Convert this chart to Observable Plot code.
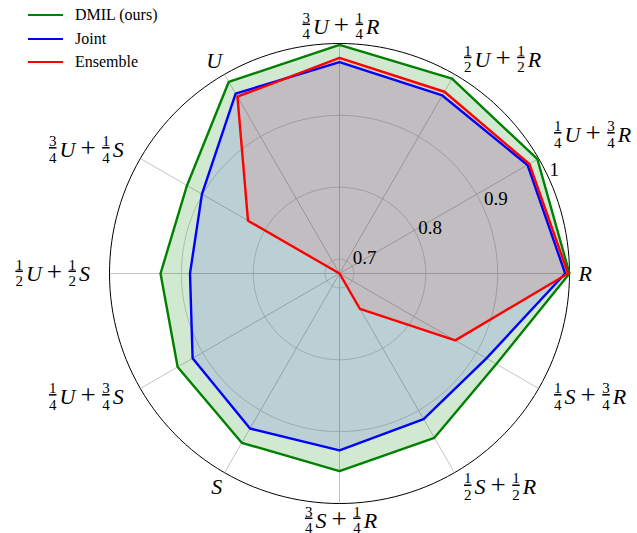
<!DOCTYPE html>
<html><head><meta charset="utf-8">
<script src="https://cdn.jsdelivr.net/npm/d3@7"></script>
<script src="https://cdn.jsdelivr.net/npm/@observablehq/plot@0.6"></script>
<style>
body{margin:0;background:#fff;}
#wrap{position:relative;width:637px;height:533px;font-family:"Liberation Serif",serif;overflow:hidden}
#wrap svg{position:absolute;left:0;top:0}
.item{position:absolute;left:28px;height:20px;display:flex;align-items:center;white-space:nowrap;font-size:16px;color:#000}
.sw{width:35px;height:2px;margin-right:12px}
</style></head><body><div id="wrap"></div>
<script>
// ---- data ----
const categories = ["3/4U + 1/4R","1/2U + 1/2R","1/4U + 3/4R","R","1/4S + 3/4R","1/2S + 1/2R","3/4S + 1/4R","S","1/4U + 3/4S","1/2U + 1/2S","3/4U + 1/4S","U"];
const dmil     = [0.998, 0.993, 0.998, 1.000, 0.932, 0.944, 0.955, 0.952, 0.940, 0.929, 0.925, 0.988];
const joint    = [0.974, 0.966, 0.982, 0.994, 0.916, 0.914, 0.926, 0.929, 0.916, 0.888, 0.901, 0.969];
const ensemble = [0.980, 0.972, 0.985, 0.998, 0.866, 0.737, 0.500, 0.500, 0.500, 0.500, 0.827, 0.964];
const seriesNames = ["DMIL (ours)", "Joint", "Ensemble"];
const seriesColors = ["#008000", "#0000ff", "#ff0000"];
const radialTicks = [0.7, 0.8, 0.9, 1];
const radialTickLabels = ["0.7", "0.8", "0.9", "1"];

// ---- layout ----
const W = 637, H = 533, mL = 109, mR = 68, mT = 43, mB = 30;
const unit = (W - mL - mR) / 2;           // pixels per data unit
const rScale = d3.scaleLinear().domain([0.68, 1]).range([0, 1]).clamp(true);
const N = categories.length;
const ang = i => (i * 2 * Math.PI) / N;   // clockwise from top

const seriesData = [dmil, joint, ensemble].map((vals, s) =>
  vals.map((v, i) => ({series: seriesNames[s], cat: categories[i], v,
    x: rScale(v) * Math.sin(ang(i)), y: rScale(v) * Math.cos(ang(i))})));

const circleData = radialTicks.map(t => d3.range(0, 361, 2).map(a => ({t,
  x: rScale(t) * Math.sin(a * Math.PI / 180), y: rScale(t) * Math.cos(a * Math.PI / 180)})));

const spokes = categories.map((c, i) => ({c, x2: Math.sin(ang(i)), y2: Math.cos(ang(i))}));

const tickAngle = 66 * Math.PI / 180;
const tickData = radialTicks.map((t, k) => ({label: radialTickLabels[k],
  x: rScale(t) * Math.sin(tickAngle), y: rScale(t) * Math.cos(tickAngle)}));

// label placement (pixels), the top-right one is lifted clear of the "1" tick label
const labelLift = categories.map((c, i) => (i === 2 ? 15 : 0));
const labelData = categories.map((c, i) => {
  const s = Math.sin(ang(i)), co = Math.cos(ang(i));
  const frac = c.includes("/");
  const sg = Math.abs(s) < 0.01 ? 0 : Math.sign(s);
  const gapX = frac ? (s < 0 ? 21 : 16) * Math.abs(s) : 9 * s * s;
  const offY = (frac ? 17 : 16) * co + labelLift[i];
  return {c, anchor: sg > 0 ? "start" : sg < 0 ? "end" : "middle",
    x: s + sg * gapX / unit, y: co + offY / unit};
});

const lineMarks = seriesData.map((d, s) => Plot.line(d, {x: "x", y: "y", curve: "linear-closed",
  stroke: seriesColors[s], strokeWidth: 2.4, strokeLinejoin: "miter"}));
const fillMarks = seriesData.map((d, s) => Plot.line(d, {x: "x", y: "y", curve: "linear-closed",
  fill: seriesColors[s], fillOpacity: [0.18, 0.1, 0.09][s], stroke: "none"}));

const svg = Plot.plot({
  width: W, height: H, marginLeft: mL, marginRight: mR, marginTop: mT, marginBottom: mB,
  x: {domain: [-1, 1], axis: null}, y: {domain: [-1, 1], axis: null},
  style: {fontFamily: "Liberation Serif", background: "transparent", overflow: "visible"},
  marks: [
    ...circleData.slice(0, 3).map(d => Plot.line(d, {x: "x", y: "y", stroke: "#c8c8c8", strokeWidth: 0.9})),
    Plot.link(spokes, {x1: 0, y1: 0, x2: "x2", y2: "y2", stroke: "#bdbdbd", strokeWidth: 0.9}),
    Plot.line(circleData[3], {x: "x", y: "y", stroke: "#000", strokeWidth: 1}),
    ...fillMarks,
    ...lineMarks,
    Plot.text(tickData, {x: "x", y: "y", text: "label", textAnchor: "start", lineAnchor: "bottom",
      dx: 0, dy: -4, fontSize: 19, fill: "#000"}),
    ...["start", "middle", "end"].map(a => Plot.text(labelData.filter(d => d.anchor === a),
      {x: "x", y: "y", text: "c", textAnchor: a, lineAnchor: "middle", fontSize: 22, fill: "#000"}))
  ]
});
document.getElementById("wrap").appendChild(svg);

// rebuild category labels as math-like text with stacked fractions
const NS = "http://www.w3.org/2000/svg";
svg.querySelectorAll("text").forEach(el => {
  const label = el.textContent;
  if (!categories.includes(label)) return;
  while (el.firstChild) el.removeChild(el.firstChild);
  let cur = 0, pend = 0;
  const add = (txt, attrs) => {
    const t = document.createElementNS(NS, "tspan");
    t.textContent = txt;
    for (const k in attrs) t.setAttribute(k, attrs[k]);
    el.appendChild(t);
  };
  label.split(" + ").forEach((p, k) => {
    if (k > 0) { add("+", {"font-size": 27, dx: 5, dy: -cur}); cur = 0; pend = 5; }
    const m = p.match(/^(\d)\/(\d)(.+)$/);
    if (m) {
      add(m[1], {"font-size": 15, dx: 1.5 + pend, dy: -11 - cur, "text-decoration": "underline"}); cur = -11;
      add(m[2], {"font-size": 15, dx: -7.5, dy: 5.5 - cur}); cur = 5.5;
      add(m[3], {"font-style": "italic", dx: 3, dy: -cur}); cur = 0;
    } else {
      add(p, {"font-style": "italic", dx: pend, dy: -cur}); cur = 0;
    }
    pend = 0;
  });
});

// legend
const wrap = document.getElementById("wrap");
const legendTops = [5, 28.5, 52];
seriesNames.forEach((n, s) => {
  const it = document.createElement("div");
  it.className = "item";
  it.style.top = legendTops[s] + "px";
  it.innerHTML = `<div class="sw" style="background:${seriesColors[s]}"></div><span>${n}</span>`;
  wrap.appendChild(it);
});
</script></body></html>
